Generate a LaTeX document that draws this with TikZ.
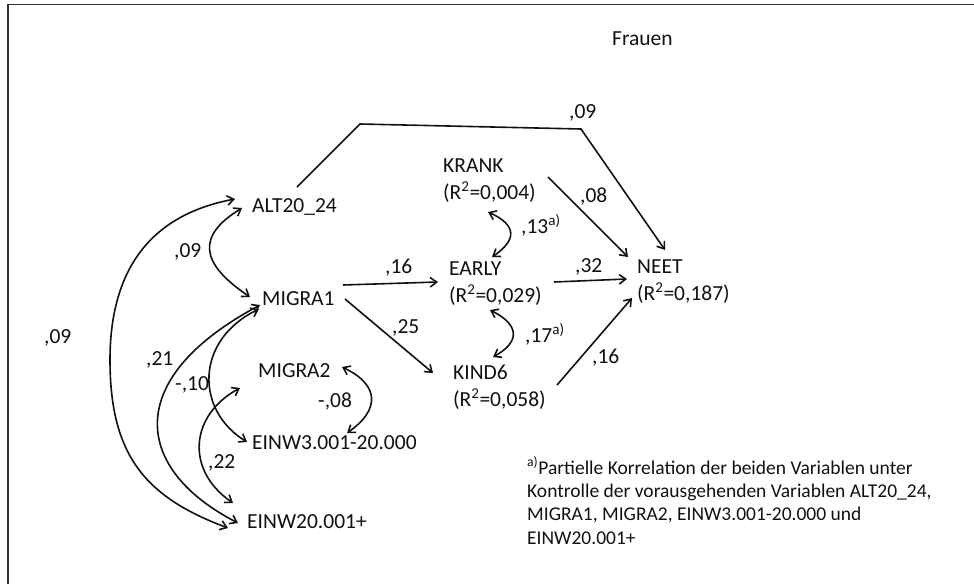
\documentclass[tikz,border=0pt]{standalone}
\usepackage{fontspec}
\setmainfont{Carlito}
\usetikzlibrary{arrows.meta,calc}
\definecolor{ink}{HTML}{111111}
\begin{document}
\begin{tikzpicture}[x=1pt,y=-1pt,
  var/.style={inner sep=0pt,anchor=base west,text=ink,font=\fontsize{21.5}{27}\selectfont,align=left},
  coef/.style={inner sep=0pt,anchor=base west,text=ink,font=\fontsize{21.5}{27}\selectfont},
  note/.style={inner sep=0pt,anchor=base west,text=ink,font=\fontsize{19.5}{23.3}\selectfont,align=left},
  conn/.style={draw=ink,line width=1.6pt,-{Straight Barb[length=6.5pt,width=9.5pt]}},
  corr/.style={draw=ink,line width=1.6pt,{Straight Barb[length=6.5pt,width=9.5pt]}-{Straight Barb[length=6.5pt,width=9.5pt]}}]
\useasboundingbox (0,0) rectangle (974,584);
\draw[draw=black!80,line width=1.5pt] (8,584) -- (8,4.5) -- (974,4.5);

% title
\node[coef] (title) at (612,45) {Frauen};

% variables (multi-line nodes: base = last line)
\node[var] (alt) at (252,212) {ALT20\_24};
\node[var] (migra1) at (262,305) {MIGRA1};
\node[var] (migra2) at (258,377) {MIGRA2};
\node[var] (einw3) at (252,449) {EINW3.001-20.000};
\node[var] (einw20) at (247,528) {EINW20.001+};
\node[var] (krank) at (443,199) {KRANK\\(R\textsuperscript{2}=0,004)};
\node[var] (early) at (449,302) {EARLY\\(R\textsuperscript{2}=0,029)};
\node[var] (kind) at (453,406) {KIND6\\(R\textsuperscript{2}=0,058)};
\node[var] (neet) at (637,300) {NEET\\(R\textsuperscript{2}=0,187)};

% coefficients
\node[coef] (c1) at (44,343) {,09};
\node[coef] (c2) at (174,257) {,09};
\node[coef] (c3) at (146,365) {,21};
\node[coef] (c4) at (175,390) {-,10};
\node[coef] (c5) at (318,407) {-,08};
\node[coef] (c6) at (208,468) {,22};
\node[coef] (c7) at (569,118) {,09};
\node[coef] (c8) at (580,202) {,08};
\node[coef] (c9) at (521,233) {,13\textsuperscript{a)}};
\node[coef] (c10) at (385,273) {,16};
\node[coef] (c11) at (575,272) {,32};
\node[coef] (c12) at (392,333) {,25};
\node[coef] (c13) at (525,342) {,17\textsuperscript{a)}};
\node[coef] (c14) at (592,363) {,16};

% footnote
\node[note] (fn) at (527,544) {\textsuperscript{a)}Partielle Korrelation der beiden Variablen unter\\Kontrolle der vorausgehenden Variablen ALT20\_24,\\MIGRA1, MIGRA2, EINW3.001-20.000 und\\EINW20.001+};

% correlations (left block)
\draw[corr] ([shift={(-17,-13)}]alt.base west) .. controls (150,215) and (110,270) .. (110,360) .. controls (110,455) and (145,497) .. ([shift={(-19,0)}]einw20.base west);
\draw[corr] ([shift={(-10,-4)}]alt.base west) .. controls (198,235) and (198,262) .. ([shift={(-12,-8)}]migra1.base west);
\draw[corr] ([shift={(-2,0)}]migra1.base west) .. controls (120,380) and (135,470) .. ([shift={(-9,-5)}]einw20.base west);
\draw[corr] ([shift={(-3,4)}]migra1.base west) .. controls (195,340) and (195,410) .. ([shift={(-5,-7)}]einw3.base west);
\draw[corr] ([shift={(-18,11)}]migra2.base west) .. controls (190,415) and (185,470) .. ([shift={(-14,-25)}]einw20.base west);
\draw[corr] ([shift={(84,-10)}]migra2.base west) .. controls (380,385) and (380,410) .. ([shift={(95,-16)}]einw3.base west);

% top path ALT -> NEET
\draw[conn] ([shift={(45,-25)}]alt.base west) -- ++(63,-63) -- ++(221,5) -- ([shift={(28,-50)}]neet.base west);

% paths
\draw[conn] ([shift={(105,-22)}]krank.base west) -- ([shift={(-9,-43)}]neet.base west);
\draw[corr] ([shift={(45,13)}]krank.base west) .. controls (517,225) and (517,240) .. ([shift={(43,-45)}]early.base west);
\draw[conn] ([shift={(81,-20)}]migra1.base west) -- ([shift={(-11,-20)}]early.base west);
\draw[conn] ([shift={(105,-20)}]early.base west) -- ([shift={(-10,-21)}]neet.base west);
\draw[conn] ([shift={(83,-6)}]migra1.base west) -- ([shift={(-20,-33)}]kind.base west);
\draw[corr] ([shift={(41,8)}]early.base west) .. controls (520,325) and (520,342) .. ([shift={(40,-49)}]kind.base west);
\draw[conn] ([shift={(104,-21)}]kind.base west) -- ([shift={(-5,-2)}]neet.base west);
\end{tikzpicture}
\end{document}
